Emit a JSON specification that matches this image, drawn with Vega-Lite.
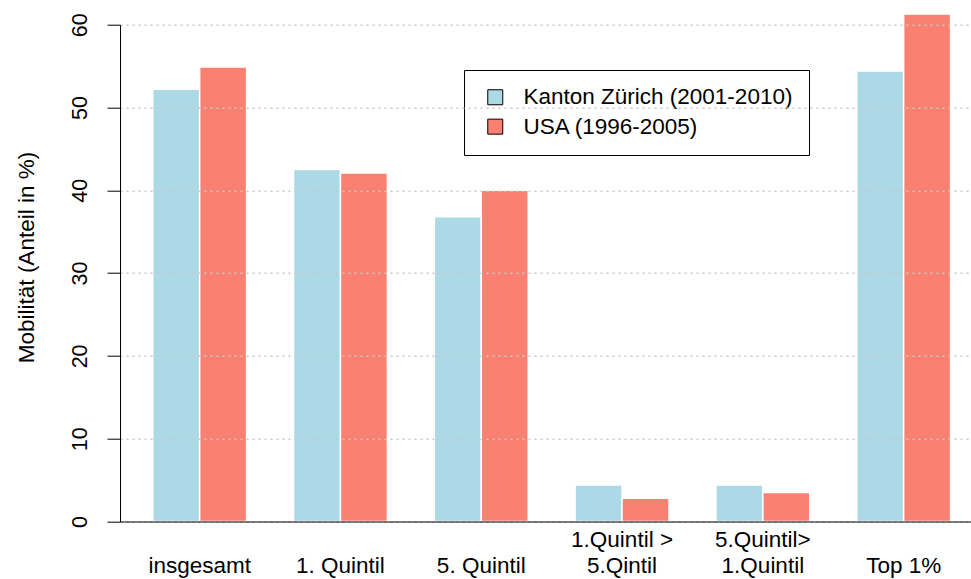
{
  "$schema": "https://vega.github.io/schema/vega-lite/v6.json",
  "width": 851,
  "height": 496.8,
  "autosize": {"type": "none"},
  "padding": {"left": 120, "top": 24.7, "right": 0, "bottom": 57.5},
  "background": "white",
  "config": {"view": {"stroke": null}, "font": "Liberation Sans"},
  "data": {
    "values": [
      {"kategorie": "insgesamt", "land": "Kanton Zürich (2001-2010)", "wert": 52.2},
      {"kategorie": "insgesamt", "land": "USA (1996-2005)", "wert": 54.9},
      {"kategorie": "1. Quintil", "land": "Kanton Zürich (2001-2010)", "wert": 42.5},
      {"kategorie": "1. Quintil", "land": "USA (1996-2005)", "wert": 42.1},
      {"kategorie": "5. Quintil", "land": "Kanton Zürich (2001-2010)", "wert": 36.8},
      {"kategorie": "5. Quintil", "land": "USA (1996-2005)", "wert": 40.0},
      {"kategorie": "1.Quintil >\n5.Qintil", "land": "Kanton Zürich (2001-2010)", "wert": 4.4},
      {"kategorie": "1.Quintil >\n5.Qintil", "land": "USA (1996-2005)", "wert": 2.8},
      {"kategorie": "5.Quintil>\n1.Quintil", "land": "Kanton Zürich (2001-2010)", "wert": 4.4},
      {"kategorie": "5.Quintil>\n1.Quintil", "land": "USA (1996-2005)", "wert": 3.5},
      {"kategorie": "Top 1%", "land": "Kanton Zürich (2001-2010)", "wert": 54.4},
      {"kategorie": "Top 1%", "land": "USA (1996-2005)", "wert": 61.3}
    ]
  },
  "mark": {"type": "bar", "stroke": "white", "strokeWidth": 1.5},
  "encoding": {
    "x": {
      "field": "kategorie",
      "type": "nominal",
      "sort": ["insgesamt", "1. Quintil", "5. Quintil", "1.Quintil >\n5.Qintil", "5.Quintil>\n1.Quintil", "Top 1%"],
      "scale": {"paddingInner": 0.3333, "paddingOuter": 0.1887, "align": 0.616},
      "axis": {
        "title": null,
        "labelAngle": 0,
        "ticks": false,
        "tickSize": 0,
        "grid": false,
        "domainColor": "black",
        "domainWidth": 1,
        "labelFontSize": 22.5,
        "labelColor": "black",
        "labelPadding": 6.7,
        "labelLineHeight": 26,
        "labelBaseline": "top",
        "labelLimit": 400,
        "labelExpr": "indexof(datum.label, '\\n') < 0 ? [' ', datum.label] : split(datum.label, '\\n')",
        "zindex": 1
      }
    },
    "xOffset": {
      "field": "land",
      "type": "nominal",
      "sort": ["Kanton Zürich (2001-2010)", "USA (1996-2005)"],
      "scale": {"paddingInner": 0, "paddingOuter": 0}
    },
    "y": {
      "field": "wert",
      "type": "quantitative",
      "scale": {"domain": [0, 60], "nice": false, "zero": true},
      "axis": {
        "title": "Mobilität (Anteil in %)",
        "values": [0, 10, 20, 30, 40, 50, 60],
        "grid": true,
        "gridColor": "#c8c8c8",
        "gridDash": [2, 4],
        "gridWidth": 1.5,
        "domainColor": "black",
        "domainWidth": 1,
        "tickColor": "black",
        "tickWidth": 1,
        "tickSize": 13,
        "labelAngle": 270,
        "labelAlign": "center",
        "labelBaseline": "alphabetic",
        "labelPadding": 21,
        "labelFontSize": 21.5,
        "labelColor": "black",
        "titleFontSize": 22.5,
        "titleFontWeight": "normal",
        "titleColor": "black",
        "titleX": -87,
        "titleY": 232.3,
        "titleAngle": 270,
        "titleAlign": "center",
        "titleBaseline": "alphabetic",
        "zindex": 1
      }
    },
    "color": {
      "field": "land",
      "type": "nominal",
      "sort": ["Kanton Zürich (2001-2010)", "USA (1996-2005)"],
      "scale": {"range": ["#ADD8E6", "#FA8072"]},
      "legend": {
        "title": null,
        "orient": "none",
        "legendX": 344,
        "legendY": 45.3,
        "padding": 16,
        "strokeColor": "black",
        "fillColor": "white",
        "symbolType": "square",
        "symbolSize": 225,
        "symbolStrokeColor": "black",
        "symbolStrokeWidth": 1,
        "symbolOffset": 4,
        "labelOffset": 17,
        "labelFontSize": 22.5,
        "labelColor": "black",
        "rowPadding": 6.4,
        "labelLimit": 400
      }
    }
  }
}
